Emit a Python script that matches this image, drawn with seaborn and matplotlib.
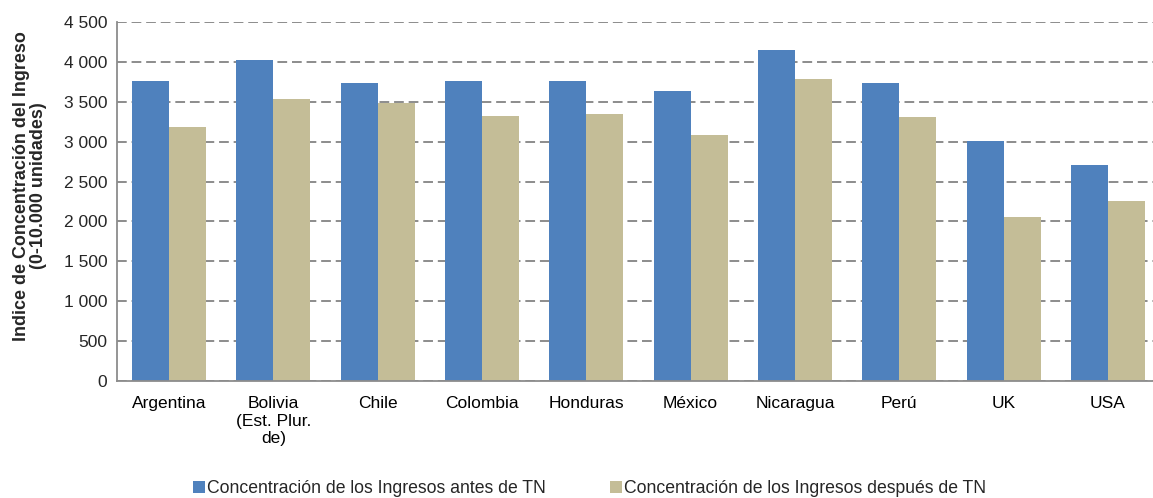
import numpy as np
import pandas as pd
import matplotlib
matplotlib.use("Agg")
import matplotlib.pyplot as plt
import seaborn as sns
from matplotlib.ticker import FixedLocator, FuncFormatter

countries = ["Argentina", "Bolivia\n(Est. Plur.\nde)", "Chile", "Colombia", "Honduras",
             "México", "Nicaragua", "Perú", "UK", "USA"]
antes = [3760, 4020, 3735, 3760, 3760, 3640, 4145, 3735, 3010, 2705]
despues = [3180, 3540, 3490, 3325, 3350, 3080, 3780, 3305, 2055, 2250]
series = ["Concentración de los Ingresos antes de TN",
          "Concentración de los Ingresos después de TN"]
colors = ["#4F81BD", "#C4BD97"]

df = pd.DataFrame({
    "pais": countries * 2,
    "valor": antes + despues,
    "serie": [series[0]] * len(countries) + [series[1]] * len(countries),
})

sns.set_theme(style="white")
plt.rcParams["font.family"] = ["Liberation Sans", "DejaVu Sans"]

fig = plt.figure(figsize=(11.53, 4.98), dpi=100)
# the plot area runs a little past the right edge, as in the original
ax = fig.add_axes([117 / 1153, 117 / 498, 1043 / 1153, 359 / 498])

sns.barplot(data=df, x="pais", y="valor", hue="serie", palette=colors,
            width=0.71, gap=0, linewidth=0, saturation=1, ax=ax)

ax.set_ylim(0, 4500)
ax.set_xlim(-0.5, len(countries) - 0.5)
ax.set_yticks(np.arange(0, 4501, 500))
ax.yaxis.set_major_formatter(FuncFormatter(lambda v, p: f"{int(v):,}".replace(",", " ")))
ax.yaxis.grid(True, linestyle=(0, (5, 2.5)), color="#8c8c8c", linewidth=1.4)
ax.set_axisbelow(True)

for s in ["top", "right"]:
    ax.spines[s].set_visible(False)
for s in ["left", "bottom"]:
    ax.spines[s].set_color("#8c8c8c")
    ax.spines[s].set_linewidth(1.3)

ax.tick_params(axis="x", which="major", length=0, pad=11, labelsize=12.5, colors="black")
ax.xaxis.set_minor_locator(FixedLocator(np.arange(-0.5, len(countries), 1)))
ax.tick_params(axis="x", which="minor", length=5, color="#8c8c8c", width=1.3, direction="out")
ax.tick_params(axis="y", length=5, color="#8c8c8c", width=1.3, direction="out",
               labelsize=12.5, pad=2)

ax.set_xlabel("")
ax.set_ylabel("Indice de Concentración del Ingreso\n(0-10.000 unidades)",
              fontsize=12.9, fontweight="bold", linespacing=1.0)
ax.yaxis.set_label_coords(-0.067, 0.543)

ax.legend(loc="center", bbox_to_anchor=(0.453, -0.30), ncol=2, frameon=False,
          fontsize=12.7, handlelength=0.7, handleheight=0.7, handletextpad=0.1,
          columnspacing=3.6)

fig.savefig("out.png", dpi=100)
